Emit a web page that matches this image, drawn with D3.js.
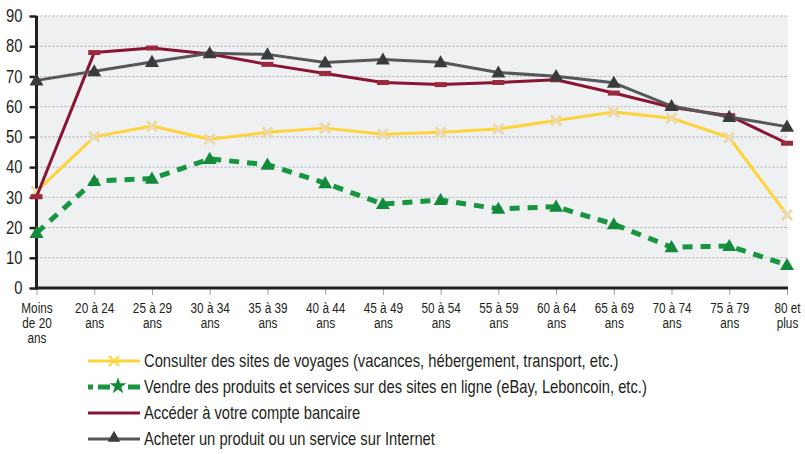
<!DOCTYPE html>
<html>
<head>
<meta charset="utf-8">
<script src="https://cdn.jsdelivr.net/npm/d3@7"></script>
<style>
  body { margin: 0; background: #fff; }
  svg text { font-family: "Liberation Sans", Arial, sans-serif; fill: #231f20; }
</style>
</head>
<body>
<svg width="805" height="454"></svg>
<script>
// categories (age groups)
const categories = ["Moins\nde 20\nans", "20 à 24\nans", "25 à 29\nans", "30 à 34\nans", "35 à 39\nans",
  "40 à 44\nans", "45 à 49\nans", "50 à 54\nans", "55 à 59\nans", "60 à 64\nans",
  "65 à 69\nans", "70 à 74\nans", "75 à 79\nans", "80 et\nplus"];

const consulter = [32, 50, 53.6, 49.2, 51.5, 52.9, 50.9, 51.5, 52.6, 55.4, 58.2, 56.2, 49.8, 24.2];
const vendre    = [18.2, 35.4, 36.2, 42.7, 40.8, 34.7, 27.8, 29.1, 26.2, 26.9, 21.1, 13.5, 13.9, 7.6];
const acceder   = [30.2, 77.9, 79.4, 77.4, 74, 71, 68, 67.3, 68, 68.9, 64.5, 59.8, 57, 47.9];
const acheter   = [68.7, 71.7, 74.8, 77.7, 77.3, 74.6, 75.6, 74.7, 71.3, 70.1, 67.9, 60.2, 56.6, 53.4];

const yTicks = [0, 10, 20, 30, 40, 50, 60, 70, 80, 90];

const legendLabels = [
  "Consulter des sites de voyages (vacances, hébergement, transport, etc.)",
  "Vendre des produits et services sur des sites en ligne (eBay, Leboncoin, etc.)",
  "Accéder à votre compte bancaire",
  "Acheter un produit ou un service sur Internet"
];

const series = [
  { values: consulter, color: "#ffd43b", width: 3, dash: null, marker: "cross", mcolor: "#ecd9ac" },
  { values: vendre, color: "#17963f", width: 5, dash: "10,8", marker: "tri", mcolor: "#138a3a" },
  { values: acceder, color: "#8a1533", width: 3, dash: null, marker: "rect", mcolor: "#9c2a3e" },
  { values: acheter, color: "#555759", width: 3, dash: null, marker: "tri", mcolor: "#3a3b3d" }
];

// narrow look: Arial-like font squeezed horizontally
const narrowY = 0.82, narrowX = 0.76, narrowLeg = 0.82;

const svg = d3.select("svg");
const plotL = 36.5, plotR = 787, plotT = 16, plotB = 288;

const x = d3.scalePoint().domain(categories).range([plotL, plotR]);
const y = d3.scaleLinear().domain([0, 90]).range([plotB, plotT]);

// plot background
svg.append("rect")
  .attr("x", plotL).attr("y", plotT)
  .attr("width", plotR - plotL + 1).attr("height", plotB - plotT)
  .attr("fill", "#eef0f2");

// grid
svg.append("g")
  .selectAll("line")
  .data(yTicks.filter(d => d > 0))
  .enter()
  .append("line")
  .attr("x1", plotL).attr("x2", plotR + 1)
  .attr("y1", d => y(d)).attr("y2", d => y(d))
  .attr("stroke", "#a7a9ac")
  .attr("stroke-width", 1)
  .attr("stroke-dasharray", "2,2");

// y axis
const yAxis = svg.append("g")
  .attr("transform", "translate(" + plotL + ",0)")
  .call(d3.axisLeft(y).tickValues(yTicks).tickSize(7).tickPadding(6));
yAxis.select(".domain").remove();
yAxis.selectAll(".tick line").attr("stroke", "#231f20").attr("stroke-width", 2.5);
yAxis.selectAll(".tick text")
  .style("font-size", "18px")
  .attr("fill", "#231f20")
  .attr("x", -14 / narrowY)
  .attr("transform", "scale(" + narrowY + ",1)");

// x axis
const xAxis = svg.append("g")
  .attr("transform", "translate(0," + plotB + ")")
  .call(d3.axisBottom(x).tickSize(7).tickPadding(4));
xAxis.select(".domain").remove();
xAxis.selectAll(".tick line").attr("stroke", "#9d9fa2").attr("stroke-width", 1);
xAxis.selectAll(".tick text").each(function (d) {
  const t = d3.select(this).text("")
    .style("font-size", "15.5px")
    .attr("fill", "#231f20")
    .attr("y", 0).attr("dy", null)
    .attr("transform", "scale(" + narrowX + ",1)");
  d.split("\n").forEach(function (ln, i) {
    t.append("tspan").attr("x", 0).attr("y", 25 + i * 15).text(ln);
  });
});

// axis lines
svg.append("line")
  .attr("x1", plotL).attr("x2", plotL)
  .attr("y1", plotT).attr("y2", plotB + 1.5)
  .attr("stroke", "#231f20").attr("stroke-width", 3);
svg.append("line")
  .attr("x1", plotL - 1.5).attr("x2", plotR + 1)
  .attr("y1", plotB).attr("y2", plotB)
  .attr("stroke", "#231f20").attr("stroke-width", 3);

const line = d3.line()
  .x((d, i) => x(categories[i]))
  .y(d => y(d));

const triPath = d3.symbol().type(d3.symbolTriangle).size(85);

function drawMarker(g, s, cx, cy) {
  if (s.marker === "cross") {
    g.append("path")
      .attr("d", "M" + (cx - 5) + "," + (cy - 5) + "L" + (cx + 5) + "," + (cy + 5) +
        "M" + (cx - 5) + "," + (cy + 5) + "L" + (cx + 5) + "," + (cy - 5))
      .attr("stroke", s.mcolor).attr("stroke-width", 3).attr("fill", "none");
  } else if (s.marker === "tri") {
    g.append("path")
      .attr("d", triPath())
      .attr("transform", "translate(" + cx + "," + (cy + 1) + ")")
      .attr("fill", s.mcolor);
  } else {
    g.append("rect")
      .attr("x", cx - 6).attr("y", cy - 2.5)
      .attr("width", 12).attr("height", 5)
      .attr("fill", s.mcolor);
  }
}

// draw series, bottom-up
series.forEach(function (s) {
  const g = svg.append("g");
  g.append("path")
    .datum(s.values)
    .attr("fill", "none")
    .attr("stroke", s.color)
    .attr("stroke-width", s.width)
    .attr("stroke-dasharray", s.dash)
    .attr("stroke-linejoin", "round")
    .attr("d", line);
  s.values.forEach(function (v, i) {
    drawMarker(g, s, x(categories[i]), y(v));
  });
});

// legend
const legend = svg.append("g");
series.forEach(function (s, i) {
  const ly = 361 + i * 26;
  const lg = legend.append("g");
  lg.append("line")
    .attr("x1", 88).attr("x2", 140)
    .attr("y1", ly).attr("y2", ly)
    .attr("stroke", s.color)
    .attr("stroke-width", s.width)
    .attr("stroke-dasharray", s.dash ? "5,5,12,18,12" : null);
  if (s.marker === "cross") {
    lg.append("path")
      .attr("d", "M109," + (ly - 5) + "L119," + (ly + 5) + "M109," + (ly + 5) + "L119," + (ly - 5))
      .attr("stroke", s.color).attr("stroke-width", 2).attr("fill", "none");
  } else if (s.marker === "tri") {
    lg.append("path")
      .attr("d", d3.symbol().type(i === 1 ? d3.symbolStar : d3.symbolTriangle).size(i === 1 ? 90 : 70)())
      .attr("transform", "translate(" + (i === 1 ? 118 : 114) + "," + (ly - 1) + ")")
      .attr("fill", s.mcolor);
  }
  lg.append("text")
    .attr("transform", "translate(144," + ly + ") scale(" + narrowLeg + ",1)")
    .attr("dy", "0.36em")
    .style("font-size", "18px")
    .text(legendLabels[i]);
});
</script>
</body>
</html>
